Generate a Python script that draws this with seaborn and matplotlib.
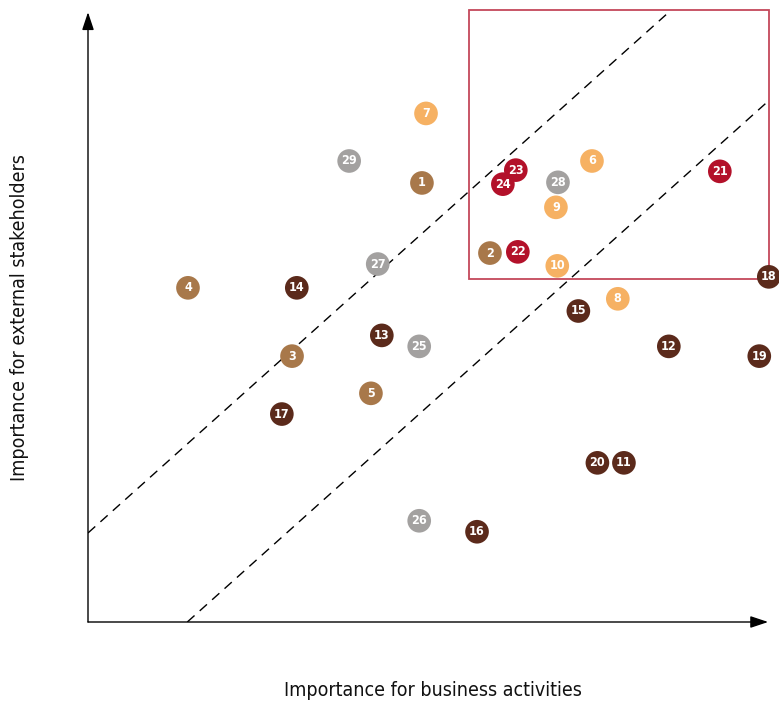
import matplotlib
matplotlib.use("Agg")
import matplotlib.pyplot as plt
import seaborn as sns
import pandas as pd
from matplotlib.patches import Rectangle

# Materiality topics: id, importance for business (x), importance for stakeholders (y)
topic_ids = list(range(1, 30))
business = [49.1, 59.1, 30.0, 14.7, 41.6,
            74.1, 49.7, 77.9, 68.8, 69.0,
            78.8, 85.4, 43.2, 30.7, 72.1, 57.2, 28.5, 100.1, 98.7, 74.9,
            92.9, 63.2, 62.9, 61.0,
            48.7, 48.7, 42.6, 69.1, 38.4]
stakeholders = [72.0, 60.5, 43.6, 54.8, 37.5,
                75.6, 83.4, 53.0, 68.0, 58.4,
                26.1, 45.2, 47.0, 54.8, 51.0, 14.8, 34.1, 56.6, 43.6, 26.1,
                73.9, 60.7, 74.1, 71.8,
                45.2, 16.6, 58.7, 72.1, 75.6]
groups = (["A"] * 5 + ["B"] * 5 + ["C"] * 10 + ["D"] * 4 + ["E"] * 5)
palette = {"A": "#A8784A", "B": "#F6B163", "C": "#5B2A1B",
           "D": "#B3112A", "E": "#A3A1A0"}

df = pd.DataFrame({"id": topic_ids, "business": business,
                   "stakeholders": stakeholders, "group": groups})

sns.set_theme(style="white")
plt.rcParams["font.family"] = ["DejaVu Sans"]
plt.rcParams["font.stretch"] = "condensed"

fig = plt.figure(figsize=(7.79, 7.02), dpi=100)
ax = fig.add_axes([88 / 779, 80 / 702, 691 / 779, 622 / 702])
ax.set_xlim(0, 101.6)
ax.set_ylim(0, 102)
for s in ax.spines.values():
    s.set_visible(False)
ax.set_xticks([])
ax.set_yticks([])

# Axis arrows
arrow = dict(arrowstyle="-|>,head_length=0.9,head_width=0.3", color="black",
             lw=1.0, shrinkA=0, shrinkB=0)
ax.annotate("", xy=(100, 0), xytext=(0, 0), arrowprops=arrow, annotation_clip=False)
ax.annotate("", xy=(0, 100), xytext=(0, 0), arrowprops=arrow, annotation_clip=False)

# Diagonal corridor
dash = (0, (7, 5))
ax.plot([0, 85.7], [14.6, 100.3], ls=dash, color="black", lw=1.0, zorder=1)
ax.plot([14.6, 100.0], [0, 85.4], ls=dash, color="black", lw=1.0, zorder=1)

# Priority box
ax.add_patch(Rectangle((56.0, 56.2), 44.1, 44.1, fill=False,
                       edgecolor="#C4485A", lw=1.3, zorder=2, clip_on=False))

sns.scatterplot(data=df, x="business", y="stakeholders", hue="group",
                palette=palette, s=290, edgecolor="none", legend=False,
                ax=ax, zorder=3, clip_on=False)

for _, r in df.iterrows():
    ax.text(r["business"], r["stakeholders"], str(r["id"]), color="white",
            fontsize=9, fontweight="bold", ha="center", va="center",
            zorder=4, clip_on=False)

ax.set_xlabel("")
ax.set_ylabel("")
fig.text(433 / 779, 1 - 690 / 702, "Importance for business activities",
         ha="center", va="center", fontsize=14, color="#111111")
fig.text(20 / 779, 1 - 318 / 702, "Importance for external stakeholders",
         ha="center", va="center", fontsize=14, rotation=90, color="#111111")

fig.savefig("out.png", dpi=100)
